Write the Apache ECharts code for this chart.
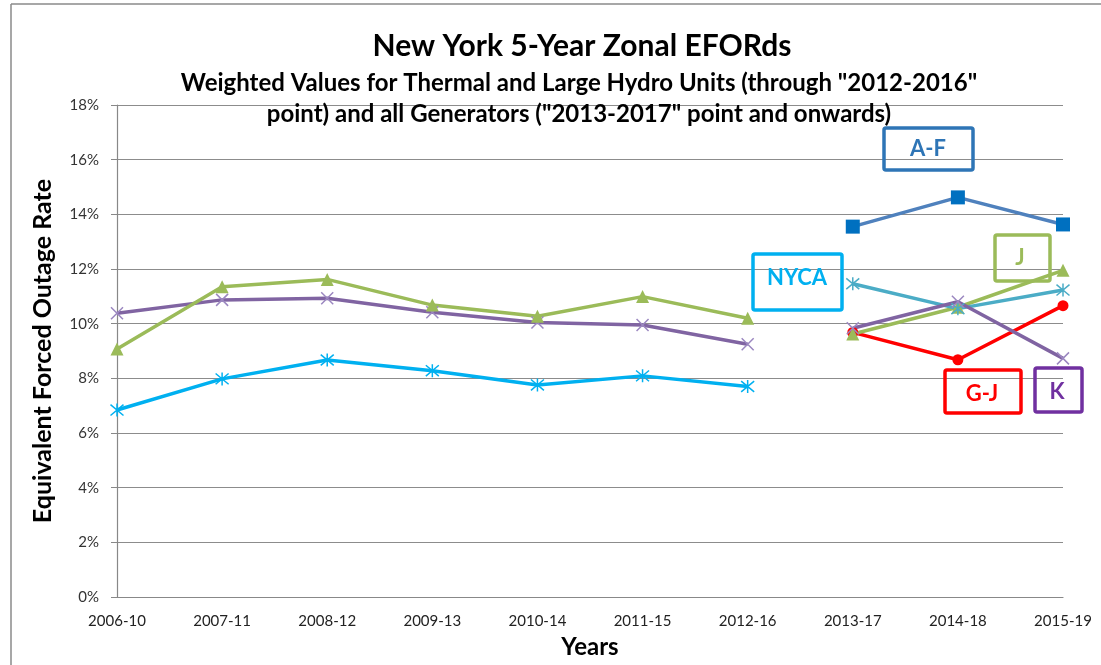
<!DOCTYPE html>
<html>
<head>
<meta charset="utf-8">
<script src="https://cdn.jsdelivr.net/npm/echarts@6/dist/echarts.min.js"></script>
<style>
html,body{margin:0;padding:0;background:#fff;}
#chart{width:1101px;height:665px;}
</style>
</head>
<body>
<div id="chart"></div>
<script>
const categories = ['2006-10','2007-11','2008-12','2009-13','2010-14','2011-15','2012-16','2013-17','2014-18','2015-19'];
const yTicks = [0, 2, 4, 6, 8, 10, 12, 14, 16, 18];
// Thermal & large hydro (through 2012-16)
const nycaHist = [6.84, 7.98, 8.67, 8.28, 7.76, 8.09, 7.70, null, null, null];
const jHist    = [9.07, 11.35, 11.62, 10.68, 10.27, 10.99, 10.20, null, null, null];
const kHist    = [10.38, 10.87, 10.93, 10.42, 10.04, 9.95, 9.25, null, null, null];
// All generators (2013-17 onwards)
const afNew    = [null, null, null, null, null, null, null, 13.55, 14.62, 13.63];
const nycaNew  = [null, null, null, null, null, null, null, 11.46, 10.55, 11.23];
const jNew     = [null, null, null, null, null, null, null, 9.62, 10.60, 11.95];
const kNew     = [null, null, null, null, null, null, null, 9.83, 10.80, 8.73];
const gjNew    = [null, null, null, null, null, null, null, 9.68, 8.68, 10.66];

const FONT = 'Lato, "Open Sans", sans-serif';
const X_SYM = 'path://M0,0L10,10M10,0L0,10';
const AST_SYM = 'path://M0,1L10,11M10,1L0,11M5,0L5,12';

function lineSeries(name, data, lineColor, symbol, size, markerStyle) {
  return {
    name: name, type: 'line', data: data, connectNulls: false,
    symbol: symbol, symbolSize: size, showSymbol: true,
    lineStyle: { color: lineColor, width: 3.5 },
    itemStyle: markerStyle,
    emphasis: { disabled: true },
    animation: false
  };
}

const chart = echarts.init(document.getElementById('chart'));

function box(x, y, w, h, color, label, tx, ty) {
  return [
    { type: 'rect', shape: { x: x, y: y, width: w, height: h, r: 2 }, style: { fill: 'none', stroke: color, lineWidth: 3.5 }, z: 1 },
    { type: 'text', x: tx, y: ty, style: { text: label, fill: color, font: 'bold 22px ' + FONT, textAlign: 'center', textVerticalAlign: 'middle' }, z: 1 }
  ];
}

chart.setOption({
  backgroundColor: '#fff',
  animation: false,
  title: [
    { text: 'New York 5-Year Zonal EFORds', left: 577, top: 26, textAlign: 'center',
      textStyle: { fontFamily: FONT, fontWeight: 'bold', fontSize: 30, color: '#000' } },
    { text: 'Weighted Values for Thermal and Large Hydro Units (through "2012-2016"\npoint) and all Generators ("2013-2017" point and onwards)',
      left: 574, top: 63, textAlign: 'center',
      textStyle: { fontFamily: FONT, fontWeight: 'bold', fontSize: 24, lineHeight: 31, color: '#000', align: 'center' } }
  ],
  grid: { left: 117, right: 38, top: 105, bottom: 68, containLabel: false },
  xAxis: {
    type: 'category', data: categories, boundaryGap: false,
    name: 'Years', nameLocation: 'middle', nameGap: 38,
    nameTextStyle: { fontFamily: FONT, fontWeight: 'bold', fontSize: 24, color: '#000' },
    axisLine: { lineStyle: { color: '#888', width: 1.2 } },
    axisTick: { show: false },
    axisLabel: { fontFamily: FONT, fontSize: 15, color: '#222', margin: 17 }
  },
  yAxis: {
    type: 'value', min: 0, max: 18, interval: 2,
    name: 'Equivalent Forced Outage Rate', nameLocation: 'middle', nameGap: 62,
    nameTextStyle: { fontFamily: FONT, fontWeight: 'bold', fontSize: 25, color: '#000' },
    axisLine: { show: true, lineStyle: { color: '#888', width: 1.2 } },
    axisTick: { show: true, length: 6, lineStyle: { color: '#888' } },
    splitLine: { lineStyle: { color: '#8c8c8c', width: 1.2 } },
    axisLabel: { fontFamily: FONT, fontSize: 15, color: '#333', margin: 18,
      formatter: function (v) { return yTicks.indexOf(v) >= 0 ? v + '%' : ''; } }
  },
  series: [
    lineSeries('NYCA (thermal)', nycaHist, '#00B0F0', AST_SYM, 13, { color: 'rgba(0,0,0,0)', borderColor: '#00B0F0', borderWidth: 1.5 }),
    lineSeries('K (thermal)', kHist, '#8064A2', X_SYM, 12, { color: 'rgba(0,0,0,0)', borderColor: '#9B87C0', borderWidth: 1.5 }),
    lineSeries('J (thermal)', jHist, '#9BBB59', 'triangle', 13, { color: '#9BBB59' }),
    lineSeries('A-F', afNew, '#4F81BD', 'rect', 14, { color: '#0070C0' }),
    lineSeries('G-J', gjNew, '#FF0000', 'circle', 11, { color: '#FF0000' }),
    lineSeries('J', jNew, '#9BBB59', 'triangle', 13, { color: '#9BBB59' }),
    lineSeries('NYCA', nycaNew, '#4BACC6', AST_SYM, 13, { color: 'rgba(0,0,0,0)', borderColor: '#4BACC6', borderWidth: 1.5 }),
    lineSeries('K', kNew, '#8064A2', X_SYM, 12, { color: 'rgba(0,0,0,0)', borderColor: '#9B87C0', borderWidth: 1.5 })
  ],
  graphic: [
    { type: 'line', shape: { x1: 11, y1: 4, x2: 1101, y2: 4 }, style: { stroke: '#8a8a8a', lineWidth: 1.5 } },
    { type: 'line', shape: { x1: 11, y1: 4, x2: 11, y2: 665 }, style: { stroke: '#8a8a8a', lineWidth: 1.5 } }
  ].concat(
    box(884, 128, 89, 42, '#2E75B6', 'A-F', 928, 149),
    box(753, 254, 89, 56, '#00B0F0', 'NYCA', 797, 278),
    box(995, 235, 55, 46, '#9BBB59', 'J', 1020, 258),
    box(945, 370, 76, 43, '#FF0000', 'G-J', 982, 394),
    box(1035, 368, 47, 44, '#7030A0', 'K', 1057, 392)
  )
});
</script>
</body>
</html>
